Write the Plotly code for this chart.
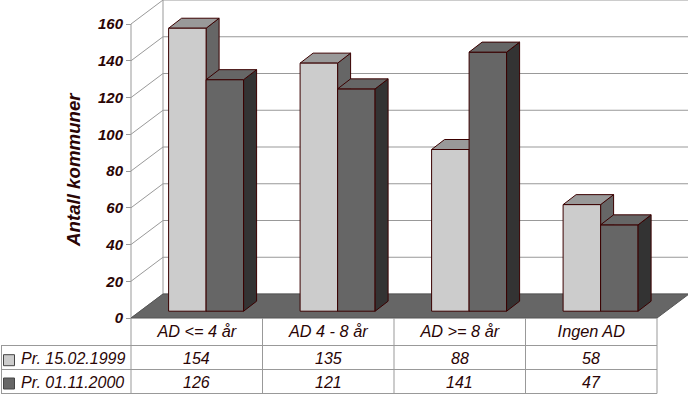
import plotly.graph_objects as go

categories = ["AD <= 4 år", "AD 4 - 8 år", "AD >= 8 år", "Ingen AD"]
series_names = ["Pr. 15.02.1999", "Pr. 01.11.2000"]
values_1999 = [154, 135, 88, 58]
values_2000 = [126, 121, 141, 47]
y_ticks = [0, 20, 40, 60, 80, 100, 120, 140, 160]

W, H = 688, 394
X0, CAT_W = 131.0, 131.5      # front plane of the axis (px), category width (px)
Y0, UNIT = 318.0, 1.8375      # value 0 (px), px per value unit
GRID = "#999999"
EDGE = "#3a0000"
TEXT = "#2a0505"
FONT = "Liberation Sans"


def dx(px):
    return px / CAT_W


def dy(px):
    return px / UNIT


def xp(px):
    return (px - X0) / CAT_W


def yp(px):
    return (Y0 - px) / UNIT


xr = [xp(0), xp(W)]
yr = [yp(H), yp(0)]
WALL_X, WALL_Y = dx(32), dy(24)     # depth of floor
BAR_DX, BAR_DY = dx(13), dy(10)     # depth of a bar
BAR_W = dx(37.5)
BAR_START = dx(37.6)
BAR_BASE = dy(6.8)

fig = go.Figure()


def poly(xs, ys, fill, line=None, axes=("x", "y"), width=1):
    fig.add_trace(go.Scatter(
        x=xs, y=ys, mode="lines", fill="toself" if fill else None, fillcolor=fill,
        line=dict(color=line or "rgba(0,0,0,0)", width=width),
        hoverinfo="skip", showlegend=False, xaxis=axes[0], yaxis=axes[1]))


n = len(categories)
top = y_ticks[-1]
# walls: grid on the back wall and on the left wall
for t in y_ticks:
    poly([0, WALL_X, n + WALL_X], [t, t + WALL_Y, t + WALL_Y], None, GRID)
poly([0, 0], [0, top], None, GRID)
poly([WALL_X, WALL_X], [WALL_Y, top + WALL_Y], None, GRID)
poly([n + WALL_X - dx(0.5)] * 2, [WALL_Y, top + WALL_Y], None, GRID)
# floor
poly([0, n, n + WALL_X, WALL_X, 0], [0, 0, WALL_Y, WALL_Y, 0], "#666666", "#555555")

# the 1999 series' depth faces sit on the lower layer
for i, v in enumerate(values_1999):
    l = i + BAR_START
    r = l + BAR_W
    t = v + BAR_BASE
    poly([r, r + BAR_DX, r + BAR_DX, r, r], [BAR_BASE, BAR_BASE + BAR_DY, t + BAR_DY, t, BAR_BASE], "#666666", EDGE)
    poly([l, l + BAR_DX, r + BAR_DX, r, l], [t, t + BAR_DY, t + BAR_DY, t, t], "#999999", EDGE)

# front faces and 2000 series on an overlaid layer
idx = list(range(n))
fig.add_trace(go.Bar(
    x=[i + BAR_START + BAR_W / 2 for i in idx], y=values_1999, base=BAR_BASE, width=BAR_W,
    name=series_names[0], marker=dict(color="#cccccc", line=dict(color=EDGE, width=1)),
    xaxis="x2", yaxis="y2", showlegend=False))
fig.add_trace(go.Bar(
    x=[i + BAR_START + BAR_W * 1.5 for i in idx], y=values_2000, base=BAR_BASE, width=BAR_W,
    name=series_names[1], marker=dict(color="#666666", line=dict(color=EDGE, width=1)),
    xaxis="x2", yaxis="y2", showlegend=False))
for i, v in enumerate(values_2000):
    l = i + BAR_START + BAR_W
    r = l + BAR_W
    t = v + BAR_BASE
    poly([r, r + BAR_DX, r + BAR_DX, r, r], [BAR_BASE, BAR_BASE + BAR_DY, t + BAR_DY, t, BAR_BASE], "#333333", EDGE, ("x2", "y2"))
    poly([l, l + BAR_DX, r + BAR_DX, r, l], [t, t + BAR_DY, t + BAR_DY, t, t], "#666666", EDGE, ("x2", "y2"))

# data table grid
rows = [yp(345.5), yp(369.5), yp(393.5)]
for k in range(n + 1):
    poly([k, k], [0, rows[-1]], None, GRID, ("x2", "y2"))
for r in rows:
    poly([xp(1), n], [r, r], None, GRID, ("x2", "y2"))
poly([xp(1.5), xp(1.5)], [rows[0], rows[-1]], None, GRID, ("x2", "y2"))

# legend keys in the table
key_cols = ["#cccccc", "#666666"]
key_tops = [354.7, 378.0]
for c, kt in zip(key_cols, key_tops):
    poly([xp(3.5), xp(14.5), xp(14.5), xp(3.5), xp(3.5)],
         [yp(kt), yp(kt), yp(kt + 11), yp(kt + 11), yp(kt)], c, "#444444", ("x2", "y2"))

table_font = dict(family=FONT, size=16, color=TEXT, style="italic")
annotations = []
row_centers = [yp(358), yp(382)]
for name, vals, rc in zip(series_names, [values_1999, values_2000], row_centers):
    annotations.append(dict(x=xp(18.5), y=rc, xref="x", yref="y", text=name, showarrow=False,
                            xanchor="left", yanchor="middle", font=table_font))
    for i, v in enumerate(vals):
        annotations.append(dict(x=i + 0.5, y=rc, xref="x", yref="y", text=str(v), showarrow=False,
                                xanchor="center", yanchor="middle", font=table_font))
annotations.append(dict(x=xp(73), y=yp(170), xref="x", yref="y", text="Antall kommuner", textangle=-90,
                        showarrow=False, xanchor="center", yanchor="middle",
                        font=dict(family=FONT, size=18.7, color=TEXT, style="italic", weight="bold")))

fig.update_layout(
    width=W, height=H, margin=dict(l=0, r=0, t=0, b=0),
    paper_bgcolor="white", plot_bgcolor="white", showlegend=False, barmode="overlay",
    annotations=annotations,
    xaxis=dict(range=xr, anchor="free", position=(H - Y0) / H, tickmode="array",
               tickvals=[i + 0.5 for i in idx], ticktext=categories, ticks="", showgrid=False,
               zeroline=False, showline=False, ticklabelstandoff=2,
               tickfont=dict(family=FONT, size=16.3, color=TEXT, style="italic")),
    yaxis=dict(range=yr, anchor="free", position=X0 / W, tickmode="array", tickvals=y_ticks,
               ticks="outside", ticklen=5, tickcolor=GRID, tickwidth=1, showgrid=False,
               zeroline=False, showline=False,
               tickfont=dict(family=FONT, size=15, color=TEXT, style="italic", weight="bold")),
    xaxis2=dict(range=xr, overlaying="x", visible=False),
    yaxis2=dict(range=yr, overlaying="y", visible=False),
)

fig.write_html("out.html", config={"displayModeBar": False},
               post_script="document.body.style.margin='0';document.body.style.overflow='hidden';")
